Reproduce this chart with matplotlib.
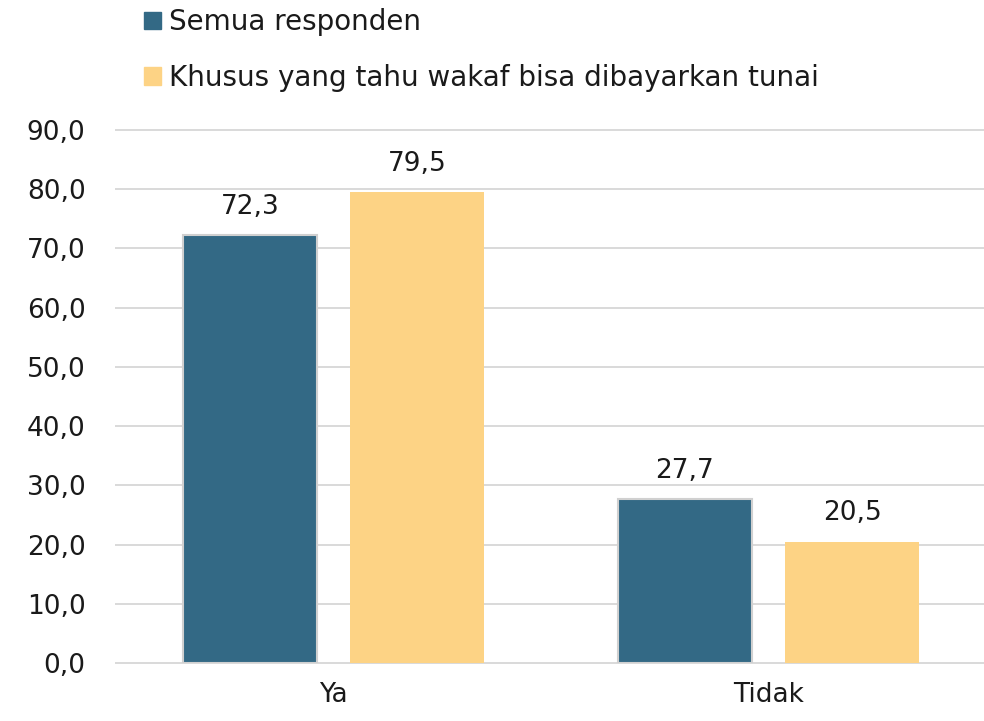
import matplotlib.pyplot as plt
import numpy as np
from matplotlib.patches import Patch

categories = ["Ya", "Tidak"]
semua = [72.3, 27.7]
khusus = [79.5, 20.5]
series_names = ["Semua responden", "Khusus yang tahu wakaf bisa dibayarkan tunai"]

blue = "#336985"
yellow = "#FDD385"
txt = "#1a1a1a"

plt.rcParams['font.family'] = ['DejaVu Sans']

fig = plt.figure(figsize=(9.84, 7.21), dpi=100)
# axes run past the right edge so the gridlines reach the border
ax = fig.add_axes([0.118, 0.0805, 0.884, 0.7392])

x = np.arange(len(categories))
w = 0.308
off = 0.192

b1 = ax.bar(x - off, semua, w, color=blue, edgecolor="#d0d0d0", linewidth=1.5, zorder=3)
b2 = ax.bar(x + off, khusus, w, color=yellow, zorder=3)

for bars, vals in [(b1, semua), (b2, khusus)]:
    for rect, v in zip(bars, vals):
        ax.annotate(f"{v:.1f}".replace(".", ","), (rect.get_x() + rect.get_width() / 2, v),
                    xytext=(0, 11), textcoords="offset points",
                    ha="center", va="bottom", fontsize=19, color=txt)

ax.set_ylim(0, 90)
ax.set_xlim(-0.5, 1.5)
yt = np.arange(0, 91, 10)
ax.set_yticks(yt)
ax.set_yticklabels([f"{t:.1f}".replace(".", ",") for t in yt], fontsize=19, color=txt)
ax.set_xticks(x)
ax.set_xticklabels(categories, fontsize=19, color=txt)
ax.tick_params(axis="y", length=0, pad=22)
ax.tick_params(axis="x", length=0, pad=14)
ax.yaxis.grid(True, color="#d9d9d9", linewidth=1.4, zorder=0)
for gl in ax.get_ygridlines():
    gl.set_clip_on(False)
ax.set_axisbelow(True)
for s in ax.spines.values():
    s.set_visible(False)

handles = [Patch(color=blue), Patch(color=yellow)]
fig.legend(handles, series_names, loc="upper left", bbox_to_anchor=(0.135, 1.004),
           frameon=False, fontsize=20, handlelength=0.6, handleheight=0.6,
           handletextpad=0.3, labelspacing=1.0, labelcolor=txt, borderaxespad=0)

fig.savefig("out.png", dpi=100)
